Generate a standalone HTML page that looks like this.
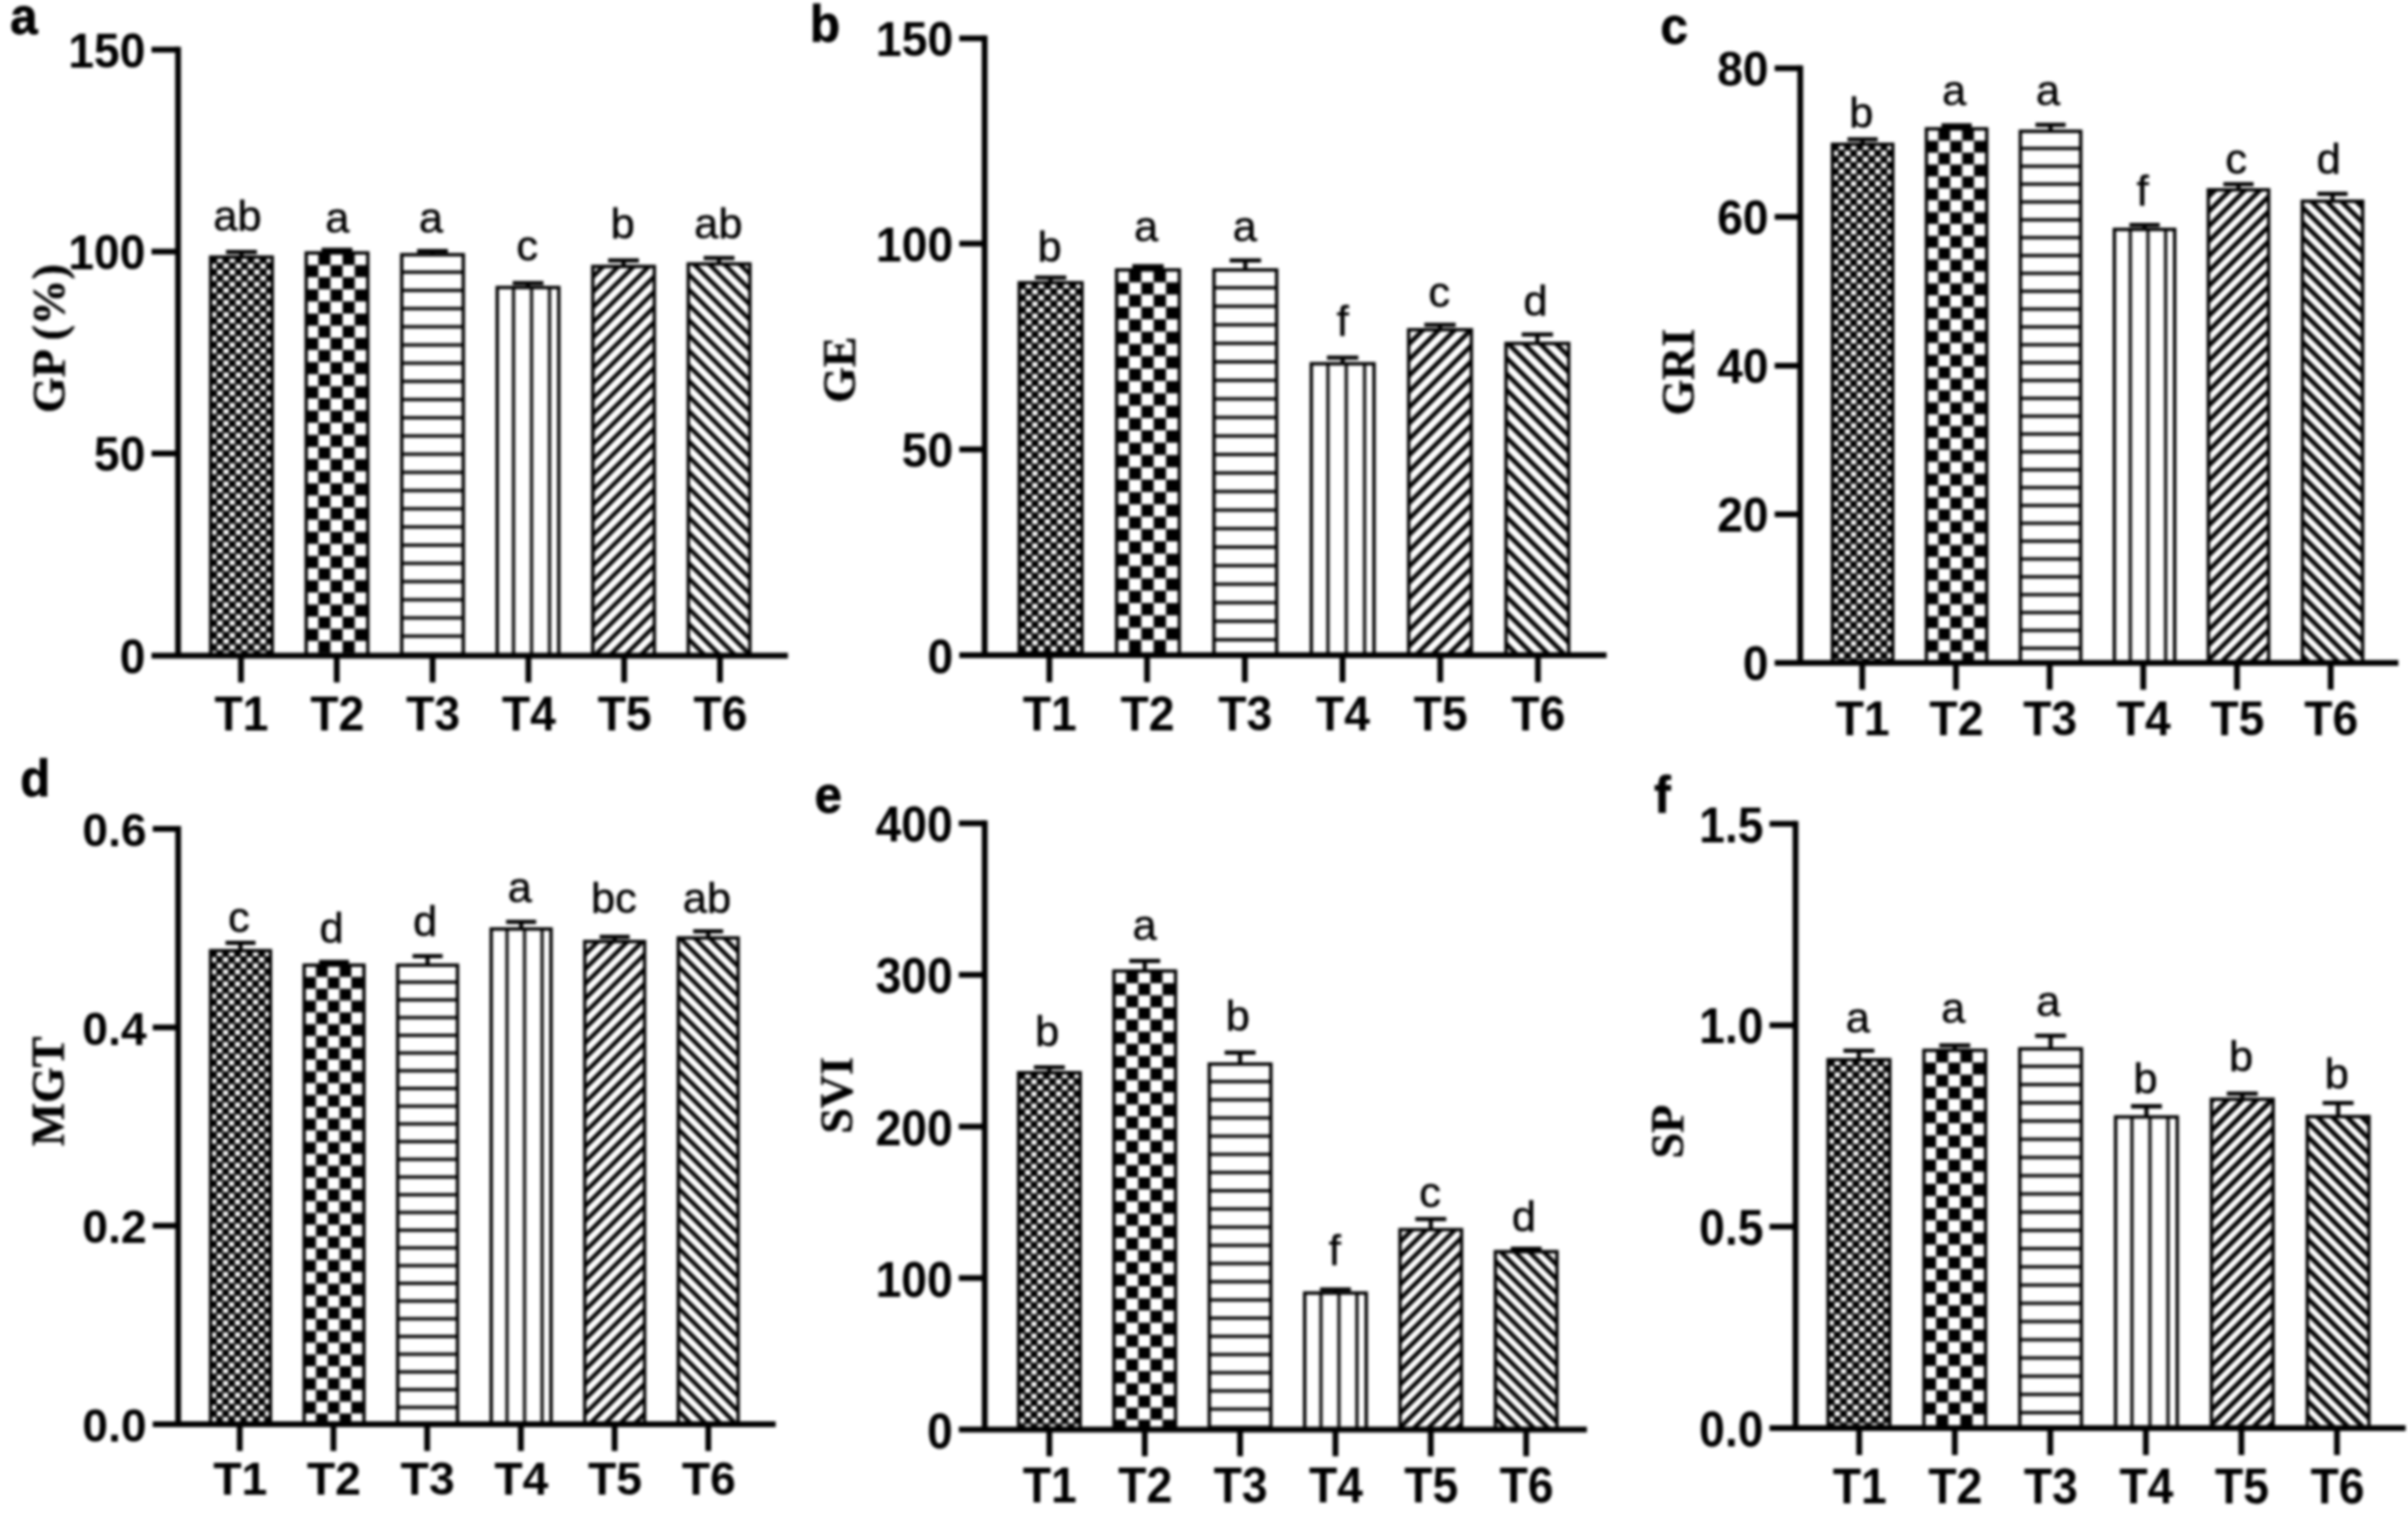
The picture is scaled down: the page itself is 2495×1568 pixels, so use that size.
<!DOCTYPE html>
<html><head><meta charset="utf-8"><title>Figure</title>
<style>
html,body{margin:0;padding:0;background:#fff;}
body{width:2495px;height:1568px;overflow:hidden;}
svg{display:block;filter:blur(1.5px);}
.tk{font-family:"Liberation Sans",sans-serif;font-weight:700;font-size:48px;fill:#000;}
.lt{font-family:"Liberation Sans",sans-serif;font-weight:400;font-size:45px;fill:#000;stroke:#000;stroke-width:0.5px;text-anchor:middle;}
.pl{font-family:"Liberation Sans",sans-serif;font-weight:700;font-size:51px;fill:#000;stroke:#000;stroke-width:0.8px;}
.yl{font-family:"Liberation Serif",serif;font-weight:700;font-size:47.5px;fill:#000;stroke:#000;stroke-width:0.5px;}
</style></head><body>
<svg width="2495" height="1568" viewBox="0 0 2495 1568">
<defs>
<pattern id="p1" patternUnits="userSpaceOnUse" width="12.76" height="12.54" patternTransform="translate(218.30 266.45)"><rect width="12.76" height="12.54" fill="#000"/><rect x="6.78" y="0.5" width="5.58" height="5.27" fill="#fff"/><rect x="0.4" y="6.77" width="5.58" height="5.27" fill="#fff"/></pattern>
<pattern id="p2" patternUnits="userSpaceOnUse" width="25.13" height="25.13" patternTransform="translate(317.27 262.15)"><rect width="25.13" height="25.13" fill="#000"/><rect x="0" y="0" width="12.56" height="12.56" fill="#fff"/><rect x="12.56" y="12.56" width="12.56" height="12.56" fill="#fff"/></pattern>
<pattern id="p3" patternUnits="userSpaceOnUse" width="20" height="18.86" patternTransform="translate(414.49 263.20)"><rect width="20" height="18.86" fill="#fff"/><rect y="17.16" width="20" height="1.7" fill="#000"/><rect y="0" width="20" height="1.7" fill="#000"/></pattern>
<pattern id="p4" patternUnits="userSpaceOnUse" width="18.64" height="20" patternTransform="translate(513.46 296.20)"><rect width="18.64" height="20" fill="#fff"/><rect x="17.04" width="1.6" height="20" fill="#000"/><rect x="0" width="1.6" height="20" fill="#000"/></pattern>
<pattern id="p5" patternUnits="userSpaceOnUse" width="15.76" height="15.76" patternTransform="translate(2.96 0)"><rect width="15.76" height="15.76" fill="#fff"/><path d="M-15.76 15.76L15.76 -15.76M0 15.76L15.76 0M0 31.52L31.52 0" stroke="#000" stroke-width="4.40"/></pattern>
<pattern id="p6" patternUnits="userSpaceOnUse" width="15.76" height="15.76" patternTransform="translate(4.00 0)"><rect width="15.76" height="15.76" fill="#fff"/><path d="M-15.76 -15.76L15.76 15.76M0 0L15.76 15.76M-15.76 0L15.76 31.52M0 -15.76L31.52 15.76" stroke="#000" stroke-width="4.40"/></pattern>
<pattern id="p7" patternUnits="userSpaceOnUse" width="12.99" height="12.54" patternTransform="translate(1056.10 293.05)"><rect width="12.99" height="12.54" fill="#000"/><rect x="6.89" y="0.5" width="5.69" height="5.27" fill="#fff"/><rect x="0.4" y="6.77" width="5.69" height="5.27" fill="#fff"/></pattern>
<pattern id="p8" patternUnits="userSpaceOnUse" width="25.57" height="25.57" patternTransform="translate(1156.96 279.75)"><rect width="25.57" height="25.57" fill="#000"/><rect x="0" y="0" width="12.79" height="12.79" fill="#fff"/><rect x="12.79" y="12.79" width="12.79" height="12.79" fill="#fff"/></pattern>
<pattern id="p9" patternUnits="userSpaceOnUse" width="20" height="19.20" patternTransform="translate(1256.07 279.00)"><rect width="20" height="19.20" fill="#fff"/><rect y="17.50" width="20" height="1.7" fill="#000"/><rect y="0" width="20" height="1.7" fill="#000"/></pattern>
<pattern id="p10" patternUnits="userSpaceOnUse" width="18.98" height="20" patternTransform="translate(1356.93 375.20)"><rect width="18.98" height="20" fill="#fff"/><rect x="17.38" width="1.6" height="20" fill="#000"/><rect x="0" width="1.6" height="20" fill="#000"/></pattern>
<pattern id="p11" patternUnits="userSpaceOnUse" width="16.48" height="16.48" patternTransform="translate(3.64 0)"><rect width="16.48" height="16.48" fill="#fff"/><path d="M-16.48 16.48L16.48 -16.48M0 16.48L16.48 0M0 32.96L32.96 0" stroke="#000" stroke-width="4.75"/></pattern>
<pattern id="p12" patternUnits="userSpaceOnUse" width="16.48" height="16.48" patternTransform="translate(3.52 0)"><rect width="16.48" height="16.48" fill="#fff"/><path d="M-16.48 -16.48L16.48 16.48M0 0L16.48 16.48M-16.48 0L16.48 32.96M0 -16.48L32.96 16.48" stroke="#000" stroke-width="4.75"/></pattern>
<pattern id="p13" patternUnits="userSpaceOnUse" width="12.52" height="12.54" patternTransform="translate(1898.65 149.55)"><rect width="12.52" height="12.54" fill="#000"/><rect x="6.66" y="0.5" width="5.46" height="5.27" fill="#fff"/><rect x="0.4" y="6.77" width="5.46" height="5.27" fill="#fff"/></pattern>
<pattern id="p14" patternUnits="userSpaceOnUse" width="24.64" height="24.64" patternTransform="translate(1996.02 133.55)"><rect width="24.64" height="24.64" fill="#000"/><rect x="0" y="0" width="12.32" height="12.32" fill="#fff"/><rect x="12.32" y="12.32" width="12.32" height="12.32" fill="#fff"/></pattern>
<pattern id="p15" patternUnits="userSpaceOnUse" width="20" height="18.50" patternTransform="translate(2091.64 135.30)"><rect width="20" height="18.50" fill="#fff"/><rect y="16.80" width="20" height="1.7" fill="#000"/><rect y="0" width="20" height="1.7" fill="#000"/></pattern>
<pattern id="p16" patternUnits="userSpaceOnUse" width="18.28" height="20" patternTransform="translate(2189.01 236.00)"><rect width="18.28" height="20" fill="#fff"/><rect x="16.68" width="1.6" height="20" fill="#000"/><rect x="0" width="1.6" height="20" fill="#000"/></pattern>
<pattern id="p17" patternUnits="userSpaceOnUse" width="15.49" height="15.49" patternTransform="translate(13.78 0)"><rect width="15.49" height="15.49" fill="#fff"/><path d="M-15.49 15.49L15.49 -15.49M0 15.49L15.49 0M0 30.98L30.98 0" stroke="#000" stroke-width="4.83"/></pattern>
<pattern id="p18" patternUnits="userSpaceOnUse" width="15.49" height="15.49" patternTransform="translate(2.23 0)"><rect width="15.49" height="15.49" fill="#fff"/><path d="M-15.49 -15.49L15.49 15.49M0 0L15.49 15.49M-15.49 0L15.49 30.98M0 -15.49L30.98 15.49" stroke="#000" stroke-width="4.83"/></pattern>
<pattern id="p19" patternUnits="userSpaceOnUse" width="12.42" height="12.54" patternTransform="translate(218.20 985.25)"><rect width="12.42" height="12.54" fill="#000"/><rect x="6.61" y="0.5" width="5.41" height="5.27" fill="#fff"/><rect x="0.4" y="6.77" width="5.41" height="5.27" fill="#fff"/></pattern>
<pattern id="p20" patternUnits="userSpaceOnUse" width="24.45" height="24.45" patternTransform="translate(315.12 1000.25)"><rect width="24.45" height="24.45" fill="#000"/><rect x="0" y="0" width="12.23" height="12.23" fill="#fff"/><rect x="12.23" y="12.23" width="12.23" height="12.23" fill="#fff"/></pattern>
<pattern id="p21" patternUnits="userSpaceOnUse" width="20" height="18.36" patternTransform="translate(410.29 999.50)"><rect width="20" height="18.36" fill="#fff"/><rect y="16.66" width="20" height="1.7" fill="#000"/><rect y="0" width="20" height="1.7" fill="#000"/></pattern>
<pattern id="p22" patternUnits="userSpaceOnUse" width="18.15" height="20" patternTransform="translate(507.21 961.00)"><rect width="18.15" height="20" fill="#fff"/><rect x="16.55" width="1.6" height="20" fill="#000"/><rect x="0" width="1.6" height="20" fill="#000"/></pattern>
<pattern id="p23" patternUnits="userSpaceOnUse" width="15.36" height="15.36" patternTransform="translate(13.24 0)"><rect width="15.36" height="15.36" fill="#fff"/><path d="M-15.36 15.36L15.36 -15.36M0 15.36L15.36 0M0 30.72L30.72 0" stroke="#000" stroke-width="4.57"/></pattern>
<pattern id="p24" patternUnits="userSpaceOnUse" width="15.36" height="15.36" patternTransform="translate(8.82 0)"><rect width="15.36" height="15.36" fill="#fff"/><path d="M-15.36 -15.36L15.36 15.36M0 0L15.36 15.36M-15.36 0L15.36 30.72M0 -15.36L30.72 15.36" stroke="#000" stroke-width="4.57"/></pattern>
<pattern id="p25" patternUnits="userSpaceOnUse" width="12.76" height="12.54" patternTransform="translate(1055.40 1111.75)"><rect width="12.76" height="12.54" fill="#000"/><rect x="6.78" y="0.5" width="5.58" height="5.27" fill="#fff"/><rect x="0.4" y="6.77" width="5.58" height="5.27" fill="#fff"/></pattern>
<pattern id="p26" patternUnits="userSpaceOnUse" width="25.13" height="25.13" patternTransform="translate(1154.20 1006.35)"><rect width="25.13" height="25.13" fill="#000"/><rect x="0" y="0" width="12.56" height="12.56" fill="#fff"/><rect x="12.56" y="12.56" width="12.56" height="12.56" fill="#fff"/></pattern>
<pattern id="p27" patternUnits="userSpaceOnUse" width="20" height="18.86" patternTransform="translate(1251.25 1102.00)"><rect width="20" height="18.86" fill="#fff"/><rect y="17.16" width="20" height="1.7" fill="#000"/><rect y="0" width="20" height="1.7" fill="#000"/></pattern>
<pattern id="p28" patternUnits="userSpaceOnUse" width="18.64" height="20" patternTransform="translate(1350.05 1338.30)"><rect width="18.64" height="20" fill="#fff"/><rect x="17.04" width="1.6" height="20" fill="#000"/><rect x="0" width="1.6" height="20" fill="#000"/></pattern>
<pattern id="p29" patternUnits="userSpaceOnUse" width="14.81" height="14.81" patternTransform="translate(12.66 0)"><rect width="14.81" height="14.81" fill="#fff"/><path d="M-14.81 14.81L14.81 -14.81M0 14.81L14.81 0M0 29.62L29.62 0" stroke="#000" stroke-width="4.61"/></pattern>
<pattern id="p30" patternUnits="userSpaceOnUse" width="14.81" height="14.81" patternTransform="translate(5.74 0)"><rect width="14.81" height="14.81" fill="#fff"/><path d="M-14.81 -14.81L14.81 14.81M0 0L14.81 14.81M-14.81 0L14.81 29.62M0 -14.81L29.62 14.81" stroke="#000" stroke-width="4.61"/></pattern>
<pattern id="p31" patternUnits="userSpaceOnUse" width="12.78" height="12.54" patternTransform="translate(1894.15 1098.25)"><rect width="12.78" height="12.54" fill="#000"/><rect x="6.79" y="0.5" width="5.59" height="5.27" fill="#fff"/><rect x="0.4" y="6.77" width="5.59" height="5.27" fill="#fff"/></pattern>
<pattern id="p32" patternUnits="userSpaceOnUse" width="25.16" height="25.16" patternTransform="translate(1993.45 1088.55)"><rect width="25.16" height="25.16" fill="#000"/><rect x="0" y="0" width="12.58" height="12.58" fill="#fff"/><rect x="12.58" y="12.58" width="12.58" height="12.58" fill="#fff"/></pattern>
<pattern id="p33" patternUnits="userSpaceOnUse" width="20" height="18.89" patternTransform="translate(2091.00 1086.20)"><rect width="20" height="18.89" fill="#fff"/><rect y="17.19" width="20" height="1.7" fill="#000"/><rect y="0" width="20" height="1.7" fill="#000"/></pattern>
<pattern id="p34" patternUnits="userSpaceOnUse" width="18.67" height="20" patternTransform="translate(2190.30 1155.80)"><rect width="18.67" height="20" fill="#fff"/><rect x="17.07" width="1.6" height="20" fill="#000"/><rect x="0" width="1.6" height="20" fill="#000"/></pattern>
<pattern id="p35" patternUnits="userSpaceOnUse" width="15.24" height="15.24" patternTransform="translate(3.68 0)"><rect width="15.24" height="15.24" fill="#fff"/><path d="M-15.24 15.24L15.24 -15.24M0 15.24L15.24 0M0 30.48L30.48 0" stroke="#000" stroke-width="4.89"/></pattern>
<pattern id="p36" patternUnits="userSpaceOnUse" width="15.24" height="15.24" patternTransform="translate(9.28 0)"><rect width="15.24" height="15.24" fill="#fff"/><path d="M-15.24 -15.24L15.24 15.24M0 0L15.24 15.24M-15.24 0L15.24 30.48M0 -15.24L30.48 15.24" stroke="#000" stroke-width="4.89"/></pattern>
</defs>
<rect width="2495" height="1568" fill="#fff"/>
<g id="panel-a">
<path d="M250.2 265.7V261.2M234.2 261.2H266.2" stroke="#000" stroke-width="4.3" fill="none"/>
<rect x="218.30" y="266.45" width="63.80" height="412.95" fill="url(#p1)" stroke="#000" stroke-width="3.5"/>
<text x="246.0" y="238.6" class="lt">ab</text>
<path d="M349.2 261.4V258.8M333.2 258.8H365.1" stroke="#000" stroke-width="4.3" fill="none"/>
<rect x="317.27" y="262.15" width="63.80" height="417.25" fill="url(#p2)" stroke="#000" stroke-width="3.5"/>
<text x="349.4" y="240.6" class="lt">a</text>
<path d="M448.1 263.2V260.2M432.2 260.2H464.1" stroke="#000" stroke-width="4.3" fill="none"/>
<rect x="416.24" y="263.95" width="63.80" height="415.45" fill="url(#p3)" stroke="#000" stroke-width="3.5"/>
<text x="446.6" y="240.6" class="lt">a</text>
<path d="M547.1 297.2V293.4M531.2 293.4H563.1" stroke="#000" stroke-width="4.3" fill="none"/>
<rect x="515.21" y="297.95" width="63.80" height="381.45" fill="url(#p4)" stroke="#000" stroke-width="3.5"/>
<text x="546.2" y="270.2" class="lt">c</text>
<path d="M646.1 275.4V269.9M630.1 269.9H662.0" stroke="#000" stroke-width="4.3" fill="none"/>
<rect x="614.18" y="276.15" width="63.80" height="403.25" fill="url(#p5)" stroke="#000" stroke-width="3.5"/>
<text x="645.3" y="246.8" class="lt">b</text>
<path d="M745.0 272.8V267.4M729.1 267.4H761.0" stroke="#000" stroke-width="4.3" fill="none"/>
<rect x="713.15" y="273.55" width="63.80" height="405.85" fill="url(#p6)" stroke="#000" stroke-width="3.5"/>
<text x="744.3" y="247.3" class="lt">ab</text>
<path d="M184.5 48.5V679.4M157.0 679.4H816.4" stroke="#000" stroke-width="6.0" fill="none"/>
<path d="M157.0 470.1H184.5M157.0 260.8H184.5M157.0 51.5H184.5M249.7 679.4V707.2M348.9 679.4V707.2M448.2 679.4V707.2M547.5 679.4V707.2M646.7 679.4V707.2M746.0 679.4V707.2" stroke="#000" stroke-width="6.0" fill="none"/>
<text transform="translate(150.7 697.6) scale(1 1.035)" class="tk" text-anchor="end">0</text>
<text transform="translate(150.7 488.3) scale(1 1.035)" class="tk" text-anchor="end">50</text>
<text transform="translate(150.7 279.0) scale(1 1.035)" class="tk" text-anchor="end">100</text>
<text transform="translate(150.7 69.7) scale(1 1.035)" class="tk" text-anchor="end">150</text>
<text transform="translate(250.2 756.5) scale(1 1.035)" class="tk" text-anchor="middle">T1</text>
<text transform="translate(349.4 756.5) scale(1 1.035)" class="tk" text-anchor="middle">T2</text>
<text transform="translate(448.7 756.5) scale(1 1.035)" class="tk" text-anchor="middle">T3</text>
<text transform="translate(548.0 756.5) scale(1 1.035)" class="tk" text-anchor="middle">T4</text>
<text transform="translate(647.2 756.5) scale(1 1.035)" class="tk" text-anchor="middle">T5</text>
<text transform="translate(746.5 756.5) scale(1 1.035)" class="tk" text-anchor="middle">T6</text>
<text transform="translate(10.6 34.8) scale(1 1.045)" class="pl">a</text>
<text transform="translate(66.8 350.8) rotate(-90)" class="yl" text-anchor="middle">GP (%)</text>
</g>
<g id="panel-b">
<path d="M1088.6 292.3V287.7M1072.4 287.7H1104.8" stroke="#000" stroke-width="4.3" fill="none"/>
<rect x="1056.10" y="293.05" width="65.00" height="386.05" fill="url(#p7)" stroke="#000" stroke-width="3.5"/>
<text x="1087.6" y="271.0" class="lt">b</text>
<path d="M1189.5 279.0V276.0M1173.2 276.0H1205.7" stroke="#000" stroke-width="4.3" fill="none"/>
<rect x="1156.96" y="279.75" width="65.00" height="399.35" fill="url(#p8)" stroke="#000" stroke-width="3.5"/>
<text x="1187.6" y="249.9" class="lt">a</text>
<path d="M1290.3 279.0V269.8M1274.1 269.8H1306.6" stroke="#000" stroke-width="4.3" fill="none"/>
<rect x="1257.82" y="279.75" width="65.00" height="399.35" fill="url(#p9)" stroke="#000" stroke-width="3.5"/>
<text x="1289.7" y="249.9" class="lt">a</text>
<path d="M1391.2 376.2V370.7M1374.9 370.7H1407.4" stroke="#000" stroke-width="4.3" fill="none"/>
<rect x="1358.68" y="376.95" width="65.00" height="302.15" fill="url(#p10)" stroke="#000" stroke-width="3.5"/>
<text x="1391.2" y="348.3" class="lt">f</text>
<path d="M1492.0 341.0V336.6M1475.8 336.6H1508.3" stroke="#000" stroke-width="4.3" fill="none"/>
<rect x="1459.54" y="341.75" width="65.00" height="337.35" fill="url(#p11)" stroke="#000" stroke-width="3.5"/>
<text x="1491.3" y="318.4" class="lt">c</text>
<path d="M1592.9 355.2V346.6M1576.7 346.6H1609.1" stroke="#000" stroke-width="4.3" fill="none"/>
<rect x="1560.40" y="355.95" width="65.00" height="323.15" fill="url(#p12)" stroke="#000" stroke-width="3.5"/>
<text x="1591.0" y="327.1" class="lt">d</text>
<path d="M1020.2 36.8V679.1M994.0 679.1H1664.6" stroke="#000" stroke-width="6.0" fill="none"/>
<path d="M994.0 465.8H1020.2M994.0 252.6H1020.2M994.0 39.8H1020.2M1087.3 679.1V706.9M1188.5 679.1V706.9M1289.8 679.1V706.9M1391.0 679.1V706.9M1492.3 679.1V706.9M1593.5 679.1V706.9" stroke="#000" stroke-width="6.0" fill="none"/>
<text transform="translate(987.7 697.6) scale(1 1.055)" class="tk" text-anchor="end">0</text>
<text transform="translate(987.7 484.3) scale(1 1.055)" class="tk" text-anchor="end">50</text>
<text transform="translate(987.7 271.1) scale(1 1.055)" class="tk" text-anchor="end">100</text>
<text transform="translate(987.7 58.3) scale(1 1.055)" class="tk" text-anchor="end">150</text>
<text transform="translate(1087.8 756.7) scale(1 1.055)" class="tk" text-anchor="middle">T1</text>
<text transform="translate(1189.0 756.7) scale(1 1.055)" class="tk" text-anchor="middle">T2</text>
<text transform="translate(1290.3 756.7) scale(1 1.055)" class="tk" text-anchor="middle">T3</text>
<text transform="translate(1391.5 756.7) scale(1 1.055)" class="tk" text-anchor="middle">T4</text>
<text transform="translate(1492.8 756.7) scale(1 1.055)" class="tk" text-anchor="middle">T5</text>
<text transform="translate(1594.0 756.7) scale(1 1.055)" class="tk" text-anchor="middle">T6</text>
<text transform="translate(839.3 42.6) scale(1 1.045)" class="pl">b</text>
<text transform="translate(886.3 383.1) rotate(-90)" class="yl" text-anchor="middle">GE</text>
</g>
<g id="panel-c">
<path d="M1929.9 148.8V144.3M1914.3 144.3H1945.5" stroke="#000" stroke-width="4.3" fill="none"/>
<rect x="1898.65" y="149.55" width="62.50" height="537.45" fill="url(#p13)" stroke="#000" stroke-width="3.5"/>
<text x="1928.5" y="132.3" class="lt">b</text>
<path d="M2027.3 132.8V129.8M2011.6 129.8H2042.9" stroke="#000" stroke-width="4.3" fill="none"/>
<rect x="1996.02" y="133.55" width="62.50" height="553.45" fill="url(#p14)" stroke="#000" stroke-width="3.5"/>
<text x="2024.8" y="108.6" class="lt">a</text>
<path d="M2124.6 135.3V129.3M2109.0 129.3H2140.3" stroke="#000" stroke-width="4.3" fill="none"/>
<rect x="2093.39" y="136.05" width="62.50" height="550.95" fill="url(#p15)" stroke="#000" stroke-width="3.5"/>
<text x="2122.0" y="108.6" class="lt">a</text>
<path d="M2222.0 237.0V233.2M2206.4 233.2H2237.7" stroke="#000" stroke-width="4.3" fill="none"/>
<rect x="2190.76" y="237.75" width="62.50" height="449.25" fill="url(#p16)" stroke="#000" stroke-width="3.5"/>
<text x="2219.9" y="213.3" class="lt">f</text>
<path d="M2319.4 196.0V190.9M2303.7 190.9H2335.0" stroke="#000" stroke-width="4.3" fill="none"/>
<rect x="2288.13" y="196.75" width="62.50" height="490.25" fill="url(#p17)" stroke="#000" stroke-width="3.5"/>
<text x="2317.1" y="179.6" class="lt">c</text>
<path d="M2416.8 207.8V200.8M2401.1 200.8H2432.4" stroke="#000" stroke-width="4.3" fill="none"/>
<rect x="2385.50" y="208.55" width="62.50" height="478.45" fill="url(#p18)" stroke="#000" stroke-width="3.5"/>
<text x="2412.8" y="179.6" class="lt">d</text>
<path d="M1865.3 67.8V687.0M1838.8 687.0H2485.0" stroke="#000" stroke-width="6.0" fill="none"/>
<path d="M1838.8 532.9H1865.3M1838.8 378.9H1865.3M1838.8 224.8H1865.3M1838.8 70.8H1865.3M1929.5 687.0V714.8M2026.6 687.0V714.8M2123.7 687.0V714.8M2220.7 687.0V714.8M2317.8 687.0V714.8M2414.9 687.0V714.8" stroke="#000" stroke-width="6.0" fill="none"/>
<text transform="translate(1832.5 705.2) scale(1 1.035)" class="tk" text-anchor="end">0</text>
<text transform="translate(1832.5 551.1) scale(1 1.035)" class="tk" text-anchor="end">20</text>
<text transform="translate(1832.5 397.1) scale(1 1.035)" class="tk" text-anchor="end">40</text>
<text transform="translate(1832.5 243.0) scale(1 1.035)" class="tk" text-anchor="end">60</text>
<text transform="translate(1832.5 89.0) scale(1 1.035)" class="tk" text-anchor="end">80</text>
<text transform="translate(1930.0 762.0) scale(1 1.035)" class="tk" text-anchor="middle">T1</text>
<text transform="translate(2027.1 762.0) scale(1 1.035)" class="tk" text-anchor="middle">T2</text>
<text transform="translate(2124.2 762.0) scale(1 1.035)" class="tk" text-anchor="middle">T3</text>
<text transform="translate(2221.2 762.0) scale(1 1.035)" class="tk" text-anchor="middle">T4</text>
<text transform="translate(2318.3 762.0) scale(1 1.035)" class="tk" text-anchor="middle">T5</text>
<text transform="translate(2415.4 762.0) scale(1 1.035)" class="tk" text-anchor="middle">T6</text>
<text transform="translate(1720.6 44.8) scale(1 1.045)" class="pl">c</text>
<text transform="translate(1755.3 385.7) rotate(-90)" class="yl" text-anchor="middle">GRI</text>
</g>
<g id="panel-d">
<path d="M249.2 984.5V977.1M233.7 977.1H264.7" stroke="#000" stroke-width="4.3" fill="none"/>
<rect x="218.20" y="985.25" width="62.00" height="490.65" fill="url(#p19)" stroke="#000" stroke-width="3.5"/>
<text x="247.6" y="965.9" class="lt">c</text>
<path d="M346.1 999.5V997.0M330.6 997.0H361.6" stroke="#000" stroke-width="4.3" fill="none"/>
<rect x="315.12" y="1000.25" width="62.00" height="475.65" fill="url(#p20)" stroke="#000" stroke-width="3.5"/>
<text x="343.5" y="977.1" class="lt">d</text>
<path d="M443.0 999.5V990.8M427.5 990.8H458.6" stroke="#000" stroke-width="4.3" fill="none"/>
<rect x="412.04" y="1000.25" width="62.00" height="475.65" fill="url(#p21)" stroke="#000" stroke-width="3.5"/>
<text x="440.4" y="970.4" class="lt">d</text>
<path d="M540.0 962.0V955.4M524.4 955.4H555.5" stroke="#000" stroke-width="4.3" fill="none"/>
<rect x="508.96" y="962.75" width="62.00" height="513.15" fill="url(#p22)" stroke="#000" stroke-width="3.5"/>
<text x="538.5" y="934.8" class="lt">a</text>
<path d="M636.9 975.0V970.9M621.4 970.9H652.4" stroke="#000" stroke-width="4.3" fill="none"/>
<rect x="605.88" y="975.75" width="62.00" height="500.15" fill="url(#p23)" stroke="#000" stroke-width="3.5"/>
<text x="635.9" y="946.0" class="lt">bc</text>
<path d="M733.8 971.3V965.2M718.3 965.2H749.3" stroke="#000" stroke-width="4.3" fill="none"/>
<rect x="702.80" y="972.05" width="62.00" height="503.85" fill="url(#p24)" stroke="#000" stroke-width="3.5"/>
<text x="732.6" y="946.0" class="lt">ab</text>
<path d="M184.6 856.1V1475.9M158.3 1475.9H803.7" stroke="#000" stroke-width="6.0" fill="none"/>
<path d="M158.3 1270.3H184.6M158.3 1064.7H184.6M158.3 859.1H184.6M248.4 1475.9V1503.7M345.5 1475.9V1503.7M442.6 1475.9V1503.7M539.7 1475.9V1503.7M636.8 1475.9V1503.7M733.9 1475.9V1503.7" stroke="#000" stroke-width="6.0" fill="none"/>
<text transform="translate(152.0 1493.7) scale(1 1.01)" class="tk" text-anchor="end">0.0</text>
<text transform="translate(152.0 1288.1) scale(1 1.01)" class="tk" text-anchor="end">0.2</text>
<text transform="translate(152.0 1082.5) scale(1 1.01)" class="tk" text-anchor="end">0.4</text>
<text transform="translate(152.0 876.9) scale(1 1.01)" class="tk" text-anchor="end">0.6</text>
<text transform="translate(248.9 1549.0) scale(1 1.01)" class="tk" text-anchor="middle">T1</text>
<text transform="translate(346.0 1549.0) scale(1 1.01)" class="tk" text-anchor="middle">T2</text>
<text transform="translate(443.1 1549.0) scale(1 1.01)" class="tk" text-anchor="middle">T3</text>
<text transform="translate(540.2 1549.0) scale(1 1.01)" class="tk" text-anchor="middle">T4</text>
<text transform="translate(637.3 1549.0) scale(1 1.01)" class="tk" text-anchor="middle">T5</text>
<text transform="translate(734.4 1549.0) scale(1 1.01)" class="tk" text-anchor="middle">T6</text>
<text transform="translate(21 825.3) scale(1 1.045)" class="pl">d</text>
<text transform="translate(65.8 1131) rotate(-90)" class="yl" text-anchor="middle">MGT</text>
</g>
<g id="panel-e">
<path d="M1087.3 1111.0V1106.1M1071.3 1106.1H1103.3" stroke="#000" stroke-width="4.3" fill="none"/>
<rect x="1055.40" y="1111.75" width="63.80" height="369.65" fill="url(#p25)" stroke="#000" stroke-width="3.5"/>
<text x="1084.9" y="1083.9" class="lt">b</text>
<path d="M1186.1 1005.6V995.8M1170.1 995.8H1202.1" stroke="#000" stroke-width="4.3" fill="none"/>
<rect x="1154.20" y="1006.35" width="63.80" height="475.05" fill="url(#p26)" stroke="#000" stroke-width="3.5"/>
<text x="1185.9" y="973.9" class="lt">a</text>
<path d="M1284.9 1102.0V1090.9M1268.9 1090.9H1300.9" stroke="#000" stroke-width="4.3" fill="none"/>
<rect x="1253.00" y="1102.75" width="63.80" height="378.65" fill="url(#p27)" stroke="#000" stroke-width="3.5"/>
<text x="1282.5" y="1068.1" class="lt">b</text>
<path d="M1383.7 1339.3V1336.3M1367.7 1336.3H1399.7" stroke="#000" stroke-width="4.3" fill="none"/>
<rect x="1351.80" y="1340.05" width="63.80" height="141.35" fill="url(#p28)" stroke="#000" stroke-width="3.5"/>
<text x="1382.9" y="1310.5" class="lt">f</text>
<path d="M1482.5 1273.6V1263.3M1466.5 1263.3H1498.5" stroke="#000" stroke-width="4.3" fill="none"/>
<rect x="1450.60" y="1274.35" width="63.80" height="207.05" fill="url(#p29)" stroke="#000" stroke-width="3.5"/>
<text x="1481.7" y="1251.2" class="lt">c</text>
<path d="M1581.3 1296.4V1294.2M1565.3 1294.2H1597.3" stroke="#000" stroke-width="4.3" fill="none"/>
<rect x="1549.40" y="1297.15" width="63.80" height="184.25" fill="url(#p30)" stroke="#000" stroke-width="3.5"/>
<text x="1579.0" y="1276.1" class="lt">d</text>
<path d="M1020.3 850.2V1481.4M993.5 1481.4H1644.2" stroke="#000" stroke-width="6.0" fill="none"/>
<path d="M993.5 1324.4H1020.3M993.5 1167.4H1020.3M993.5 1010.3H1020.3M993.5 853.2H1020.3M1087.3 1481.4V1509.2M1186.1 1481.4V1509.2M1284.9 1481.4V1509.2M1383.7 1481.4V1509.2M1482.5 1481.4V1509.2M1581.3 1481.4V1509.2" stroke="#000" stroke-width="6.0" fill="none"/>
<text transform="translate(987.2 1500.5) scale(1 1.09)" class="tk" text-anchor="end">0</text>
<text transform="translate(987.2 1343.5) scale(1 1.09)" class="tk" text-anchor="end">100</text>
<text transform="translate(987.2 1186.5) scale(1 1.09)" class="tk" text-anchor="end">200</text>
<text transform="translate(987.2 1029.4) scale(1 1.09)" class="tk" text-anchor="end">300</text>
<text transform="translate(987.2 872.3) scale(1 1.09)" class="tk" text-anchor="end">400</text>
<text transform="translate(1087.8 1557.2) scale(1 1.09)" class="tk" text-anchor="middle">T1</text>
<text transform="translate(1186.6 1557.2) scale(1 1.09)" class="tk" text-anchor="middle">T2</text>
<text transform="translate(1285.4 1557.2) scale(1 1.09)" class="tk" text-anchor="middle">T3</text>
<text transform="translate(1384.2 1557.2) scale(1 1.09)" class="tk" text-anchor="middle">T4</text>
<text transform="translate(1483.0 1557.2) scale(1 1.09)" class="tk" text-anchor="middle">T5</text>
<text transform="translate(1581.8 1557.2) scale(1 1.09)" class="tk" text-anchor="middle">T6</text>
<text transform="translate(844 842) scale(1 1.045)" class="pl">e</text>
<text transform="translate(883 1135.2) rotate(-90)" class="yl" text-anchor="middle">SVI</text>
</g>
<g id="panel-f">
<path d="M1926.1 1097.5V1088.9M1910.1 1088.9H1942.1" stroke="#000" stroke-width="4.3" fill="none"/>
<rect x="1894.15" y="1098.25" width="63.90" height="381.85" fill="url(#p31)" stroke="#000" stroke-width="3.5"/>
<text x="1924.9" y="1069.7" class="lt">a</text>
<path d="M2025.4 1087.8V1083.4M2009.4 1083.4H2041.4" stroke="#000" stroke-width="4.3" fill="none"/>
<rect x="1993.45" y="1088.55" width="63.90" height="391.55" fill="url(#p32)" stroke="#000" stroke-width="3.5"/>
<text x="2023.8" y="1060.2" class="lt">a</text>
<path d="M2124.7 1086.2V1073.4M2108.7 1073.4H2140.7" stroke="#000" stroke-width="4.3" fill="none"/>
<rect x="2092.75" y="1086.95" width="63.90" height="393.15" fill="url(#p33)" stroke="#000" stroke-width="3.5"/>
<text x="2122.3" y="1053.0" class="lt">a</text>
<path d="M2224.0 1156.8V1146.5M2208.0 1146.5H2240.0" stroke="#000" stroke-width="4.3" fill="none"/>
<rect x="2192.05" y="1157.55" width="63.90" height="322.55" fill="url(#p34)" stroke="#000" stroke-width="3.5"/>
<text x="2222.9" y="1133.3" class="lt">b</text>
<path d="M2323.3 1138.5V1133.3M2307.3 1133.3H2339.3" stroke="#000" stroke-width="4.3" fill="none"/>
<rect x="2291.35" y="1139.25" width="63.90" height="340.85" fill="url(#p35)" stroke="#000" stroke-width="3.5"/>
<text x="2321.9" y="1109.6" class="lt">b</text>
<path d="M2422.6 1156.4V1143.2M2406.6 1143.2H2438.6" stroke="#000" stroke-width="4.3" fill="none"/>
<rect x="2390.65" y="1157.15" width="63.90" height="322.95" fill="url(#p36)" stroke="#000" stroke-width="3.5"/>
<text x="2421.3" y="1127.5" class="lt">b</text>
<path d="M1860.4 850.7V1480.1M1833.5 1480.1H2492.5" stroke="#000" stroke-width="6.0" fill="none"/>
<path d="M1833.5 1271.3H1860.4M1833.5 1062.5H1860.4M1833.5 853.7H1860.4M1926.4 1480.1V1507.9M2025.4 1480.1V1507.9M2124.4 1480.1V1507.9M2223.4 1480.1V1507.9M2322.4 1480.1V1507.9M2421.4 1480.1V1507.9" stroke="#000" stroke-width="6.0" fill="none"/>
<text transform="translate(1827.2 1498.9) scale(1 1.07)" class="tk" text-anchor="end">0.0</text>
<text transform="translate(1827.2 1290.1) scale(1 1.07)" class="tk" text-anchor="end">0.5</text>
<text transform="translate(1827.2 1081.3) scale(1 1.07)" class="tk" text-anchor="end">1.0</text>
<text transform="translate(1827.2 872.5) scale(1 1.07)" class="tk" text-anchor="end">1.5</text>
<text transform="translate(1926.9 1557.5) scale(1 1.07)" class="tk" text-anchor="middle">T1</text>
<text transform="translate(2025.9 1557.5) scale(1 1.07)" class="tk" text-anchor="middle">T2</text>
<text transform="translate(2124.9 1557.5) scale(1 1.07)" class="tk" text-anchor="middle">T3</text>
<text transform="translate(2223.9 1557.5) scale(1 1.07)" class="tk" text-anchor="middle">T4</text>
<text transform="translate(2322.9 1557.5) scale(1 1.07)" class="tk" text-anchor="middle">T5</text>
<text transform="translate(2421.9 1557.5) scale(1 1.07)" class="tk" text-anchor="middle">T6</text>
<text transform="translate(1714 842) scale(1 1.045)" class="pl">f</text>
<text transform="translate(1743.5 1172.7) rotate(-90)" class="yl" text-anchor="middle">SP</text>
</g>
</svg>
</body></html>
